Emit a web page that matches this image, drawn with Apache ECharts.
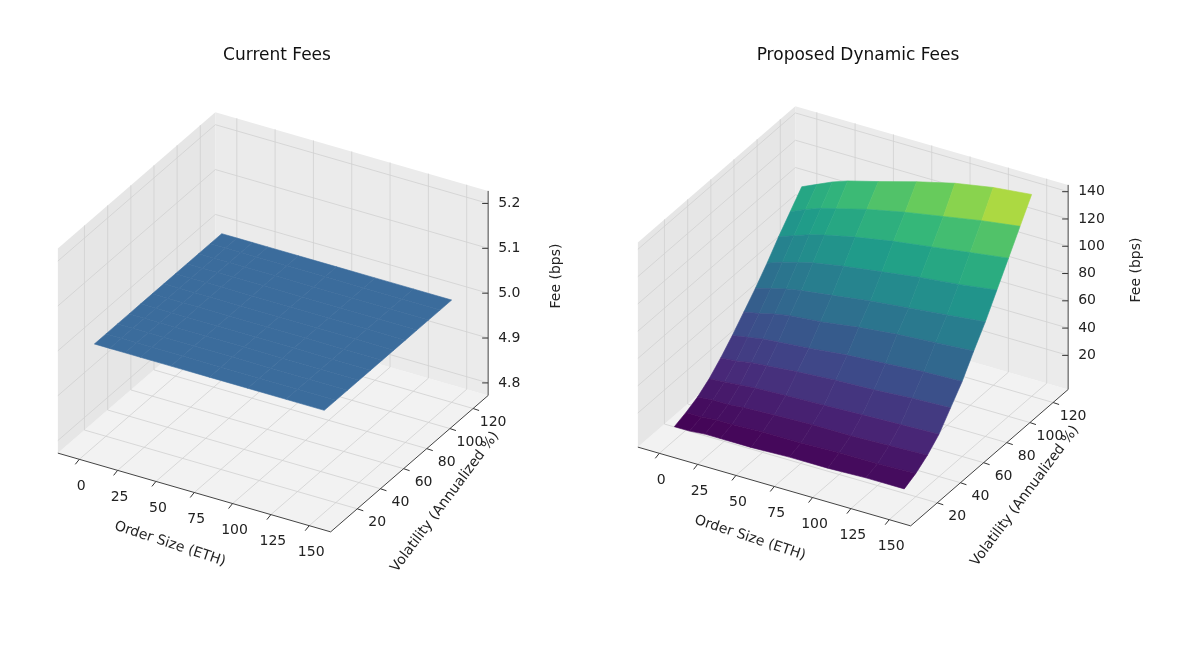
<!DOCTYPE html>
<html>
<head>
<meta charset="utf-8">
<script src="https://cdn.jsdelivr.net/npm/echarts@6/dist/echarts.min.js"></script>
<style>html,body{margin:0;background:#fff}#c{width:1200px;height:647px}</style>
</head>
<body>
<div id="c"></div>
<script>
var orderSizes = [0, 10, 20, 30, 50, 75, 100, 125, 150];
var volatilities = [10, 20, 30, 40, 50, 60, 70, 80, 90, 100, 110, 120];
var currentFees = [
  [5, 5, 5, 5, 5, 5, 5, 5, 5],
  [5, 5, 5, 5, 5, 5, 5, 5, 5],
  [5, 5, 5, 5, 5, 5, 5, 5, 5],
  [5, 5, 5, 5, 5, 5, 5, 5, 5],
  [5, 5, 5, 5, 5, 5, 5, 5, 5],
  [5, 5, 5, 5, 5, 5, 5, 5, 5],
  [5, 5, 5, 5, 5, 5, 5, 5, 5],
  [5, 5, 5, 5, 5, 5, 5, 5, 5],
  [5, 5, 5, 5, 5, 5, 5, 5, 5],
  [5, 5, 5, 5, 5, 5, 5, 5, 5],
  [5, 5, 5, 5, 5, 5, 5, 5, 5],
  [5, 5, 5, 5, 5, 5, 5, 5, 5]
];
var dynamicFees = [
  [5, 5, 6, 6, 6, 7, 7, 8, 8],
  [8, 8, 9, 9, 10, 10, 11, 11, 12],
  [12, 13, 13, 14, 15, 16, 16, 17, 18],
  [18, 19, 20, 21, 22, 23, 24, 25, 26],
  [26, 27, 29, 30, 32, 34, 35, 37, 38],
  [35, 37, 39, 40, 42, 45, 47, 49, 50],
  [45, 47, 50, 52, 54, 58, 61, 63, 65],
  [55, 58, 61, 63, 66, 70, 73, 76, 79],
  [66, 70, 73, 76, 80, 84, 88, 91, 95],
  [78, 82, 86, 89, 94, 99, 103, 107, 111],
  [89, 94, 98, 101, 107, 113, 118, 123, 127],
  [100, 105, 110, 114, 120, 128, 135, 140, 143]
];
var sizeTicks = [0, 25, 50, 75, 100, 125, 150];
var volTicks = [20, 40, 60, 80, 100, 120];
var currentFeeTicks = [4.8, 4.9, 5.0, 5.1, 5.2];
var dynamicFeeTicks = [20, 40, 60, 80, 100, 120, 140];

var chart = echarts.init(document.getElementById('c'));

// matplotlib default view: azim -60, elev 30
var R = [0.866, 0.5, 0], U = [-0.25, 0.433, 0.866], E = [0.433, -0.75, 0.5];
var S = 315;

function makePanel(cx, cy, zlim) {
  var xlim = [-14, 164], ylim = [-3, 133];
  function norm(x, y, z) {
    return [(x - xlim[0]) / (xlim[1] - xlim[0]) - 0.5,
            (y - ylim[0]) / (ylim[1] - ylim[0]) - 0.5,
            ((z - zlim[0]) / (zlim[1] - zlim[0]) - 0.5) * 0.75];
  }
  function proj(x, y, z) {
    var p = norm(x, y, z);
    return [cx + S * (p[0] * R[0] + p[1] * R[1] + p[2] * R[2]),
            cy - S * (p[0] * U[0] + p[1] * U[1] + p[2] * U[2])];
  }
  function depth(x, y, z) {
    var p = norm(x, y, z);
    return p[0] * E[0] + p[1] * E[1] + p[2] * E[2];
  }
  return {proj: proj, depth: depth, xlim: xlim, ylim: ylim, zlim: zlim, cx: cx, cy: cy};
}

function paneGraphics(P, zTicks, zFmt) {
  var g = [];
  var x0 = P.xlim[0], x1 = P.xlim[1], y0 = P.ylim[0], y1 = P.ylim[1], z0 = P.zlim[0], z1 = P.zlim[1];
  function poly(pts, fill) {
    g.push({type: 'polygon', shape: {points: pts}, style: {fill: fill, stroke: null}, silent: true});
  }
  function line(a, b, color, w) {
    g.push({type: 'line', shape: {x1: a[0], y1: a[1], x2: b[0], y2: b[1]}, style: {stroke: color, lineWidth: w}, silent: true});
  }
  function text(p, s, opt) {
    g.push(Object.assign({type: 'text', x: p[0], y: p[1], style: Object.assign({text: s, fill: '#222', font: '14px "DejaVu Sans"', align: 'center', verticalAlign: 'middle'}, opt.style || {})}, opt.el || {}));
  }
  poly([P.proj(x0, y0, z0), P.proj(x1, y0, z0), P.proj(x1, y1, z0), P.proj(x0, y1, z0)], '#f2f2f2');
  poly([P.proj(x0, y1, z0), P.proj(x1, y1, z0), P.proj(x1, y1, z1), P.proj(x0, y1, z1)], '#ebebeb');
  poly([P.proj(x0, y0, z0), P.proj(x0, y1, z0), P.proj(x0, y1, z1), P.proj(x0, y0, z1)], '#e6e6e6');
  var gc = '#d0d0d0';
  sizeTicks.forEach(function (x) {
    line(P.proj(x, y0, z0), P.proj(x, y1, z0), gc, 0.8);
    line(P.proj(x, y1, z0), P.proj(x, y1, z1), gc, 0.8);
    var a = P.proj(x, y0, z0);
    line(a, [a[0] - 4, a[1] + 5], '#333', 1);
    text([a[0] + 2, a[1] + 27], String(x), {});
  });
  volTicks.forEach(function (y) {
    line(P.proj(x0, y, z0), P.proj(x1, y, z0), gc, 0.8);
    line(P.proj(x0, y, z0), P.proj(x0, y, z1), gc, 0.8);
    var a = P.proj(x1, y, z0);
    line(a, [a[0] + 6, a[1] + 2], '#333', 1);
    text([a[0] + 20, a[1] + 14], String(y), {});
  });
  zTicks.forEach(function (z) {
    line(P.proj(x0, y1, z), P.proj(x1, y1, z), gc, 0.8);
    line(P.proj(x0, y0, z), P.proj(x0, y1, z), gc, 0.8);
    var a = P.proj(x1, y1, z);
    line(a, [a[0] - 6, a[1]], '#333', 1);
    text([a[0] + 10, a[1]], zFmt(z), {style: {align: 'left'}});
  });
  line(P.proj(x0, y0, z0), P.proj(x1, y0, z0), '#444', 1);
  line(P.proj(x1, y0, z0), P.proj(x1, y1, z0), '#444', 1);
  line(P.proj(x1, y1, z0), P.proj(x1, y1, z1), '#444', 1);
  text([P.cx - 103, P.cy + 222], 'Order Size (ETH)', {el: {rotation: -0.32}});
  text([P.cx + 172, P.cy + 180], 'Volatility (Annualized %)', {el: {rotation: 0.93}});
  text([P.cx + 283, P.cy - 46], 'Fee (bps)', {el: {rotation: Math.PI / 2}});
  return g;
}

var viridis = ['#440154', '#482878', '#3e4989', '#31688e', '#26828e', '#1f9e89', '#35b779', '#6ece58', '#fde725'];
function hex(c) { return [parseInt(c.substr(1, 2), 16), parseInt(c.substr(3, 2), 16), parseInt(c.substr(5, 2), 16)]; }
function viridisAt(t) {
  t = Math.max(0, Math.min(1, t)) * (viridis.length - 1);
  var i = Math.min(Math.floor(t), viridis.length - 2), f = t - i;
  var a = hex(viridis[i]), b = hex(viridis[i + 1]);
  return 'rgb(' + a.map(function (v, k) { return Math.round(v + (b[k] - v) * f); }).join(',') + ')';
}

function cellData(P, grid) {
  var cells = [];
  for (var j = 0; j < volatilities.length - 1; j++) {
    for (var i = 0; i < orderSizes.length - 1; i++) {
      var xa = orderSizes[i], xb = orderSizes[i + 1], ya = volatilities[j], yb = volatilities[j + 1];
      var z = [grid[j][i], grid[j][i + 1], grid[j + 1][i + 1], grid[j + 1][i]];
      var zm = (z[0] + z[1] + z[2] + z[3]) / 4;
      cells.push({d: P.depth((xa + xb) / 2, (ya + yb) / 2, zm), v: [xa, ya, xb, yb, z[0], z[1], z[2], z[3]]});
    }
  }
  cells.sort(function (a, b) { return a.d - b.d; });
  return cells.map(function (c) { return c.v; });
}

function surfaceSeries(P, grid, colorFn) {
  return {
    type: 'custom',
    coordinateSystem: 'none',
    silent: true,
    data: cellData(P, grid),
    renderItem: function (params, api) {
      var xa = api.value(0), ya = api.value(1), xb = api.value(2), yb = api.value(3);
      var z = [api.value(4), api.value(5), api.value(6), api.value(7)];
      var pts = [P.proj(xa, ya, z[0]), P.proj(xb, ya, z[1]), P.proj(xb, yb, z[2]), P.proj(xa, yb, z[3])];
      var c = colorFn((z[0] + z[1] + z[2] + z[3]) / 4);
      return {type: 'polygon', shape: {points: pts}, style: {fill: c, stroke: c, lineWidth: 0.6}};
    }
  };
}

var left = makePanel(273, 322, [4.772, 5.228]);
var right = makePanel(853, 316, [-5, 145]);

var graphics = paneGraphics(left, currentFeeTicks, function (v) { return v.toFixed(1); })
  .concat(paneGraphics(right, dynamicFeeTicks, function (v) { return String(v); }));

chart.setOption({
  backgroundColor: '#fff',
  animation: false,
  title: [
    {text: 'Current Fees', left: 272, top: 42, textAlign: 'center', textStyle: {fontFamily: 'DejaVu Sans', fontSize: 17, fontWeight: 'normal', color: '#111'}},
    {text: 'Proposed Dynamic Fees', left: 853, top: 42, textAlign: 'center', textStyle: {fontFamily: 'DejaVu Sans', fontSize: 17, fontWeight: 'normal', color: '#111'}}
  ],
  graphic: {elements: graphics.map(function (g) { g.z = -1; return g; })},
  series: [
    surfaceSeries(left, currentFees, function () { return '#3b6c9c'; }),
    surfaceSeries(right, dynamicFees, function (z) { return viridisAt((z - 5) / 138); })
  ]
});
</script>
</body>
</html>
